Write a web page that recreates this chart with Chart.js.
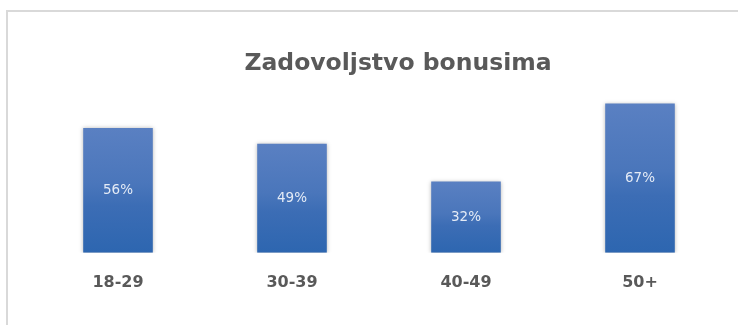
<!DOCTYPE html>
<html>
<head>
<meta charset="utf-8">
<script src="https://cdn.jsdelivr.net/npm/chart.js@4.4.1/dist/chart.umd.min.js"></script>
<style>
    html, body { margin: 0; padding: 0; background: #fff; overflow: hidden; }
    #wrap { position: relative; width: 738px; height: 325px; }
    #frame {
        position: absolute; left: 6px; top: 10px; width: 800px; height: 400px;
        border: 2px solid #d9d9d9; box-sizing: border-box;
    }
    #bonusChart { position: absolute; left: 0; top: 0; }
</style>
</head>
<body>
<div id="wrap">
    <div id="frame"></div>
    <canvas id="bonusChart" width="738" height="325"></canvas>
</div>
<script>
var titleText = 'Zadovoljstvo bonusima';
var ageGroups = ['18-29', '30-39', '40-49', '50+'];
var satisfied = [56, 49, 32, 67];

// vertical gradient per bar, lighter at the top
function barGradient(context) {
    var chart = context.chart;
    if (!chart.chartArea || context.type !== 'data') {
        return '#3f70b8';
    }
    var y = chart.scales.y;
    var top = y.getPixelForValue(context.raw);
    var bottom = y.getPixelForValue(0);
    var g = chart.ctx.createLinearGradient(0, top, 0, bottom);
    g.addColorStop(0, '#5a80c2');
    g.addColorStop(0.45, '#4a76bb');
    g.addColorStop(0.62, '#3c6db5');
    g.addColorStop(1, '#2d66b0');
    return g;
}

var titlePlugin = {
    id: 'titleText',
    afterDraw: function (chart) {
        var ctx = chart.ctx;
        ctx.save();
        ctx.font = 'bold 23.5px "DejaVu Sans"';
        ctx.fillStyle = '#595959';
        ctx.textAlign = 'center';
        ctx.textBaseline = 'middle';
        ctx.fillText(titleText, 398, 64);
        ctx.restore();
    }
};

var barShadow = {
    id: 'barShadow',
    beforeDatasetsDraw: function (chart) {
        var ctx = chart.ctx;
        ctx.save();
        ctx.shadowColor = 'rgba(0, 0, 0, 0.28)';
        ctx.shadowBlur = 4;
        ctx.shadowOffsetX = 0;
        ctx.shadowOffsetY = 0;
    },
    afterDatasetsDraw: function (chart) {
        chart.ctx.restore();
    }
};

var valueLabels = {
    id: 'valueLabels',
    afterDatasetsDraw: function (chart) {
        var ctx = chart.ctx;
        var meta = chart.getDatasetMeta(0);
        ctx.save();
        ctx.font = '13.5px "DejaVu Sans"';
        ctx.fillStyle = '#e4ebf6';
        ctx.textAlign = 'center';
        ctx.textBaseline = 'middle';
        meta.data.forEach(function (bar, i) {
            var mid = (bar.y + bar.base) / 2;
            ctx.fillText(satisfied[i] + '%', bar.x, mid);
        });
        ctx.restore();
    }
};

var chart = new Chart(document.getElementById('bonusChart'), {
    type: 'bar',
    data: {
        labels: ageGroups,
        datasets: [{
            data: satisfied,
            backgroundColor: barGradient,
            borderWidth: 0,
            barPercentage: 0.4,
            categoryPercentage: 1.0
        }]
    },
    options: {
        responsive: false,
        animation: false,
        events: [],
        layout: {
            padding: { left: 31, right: 11, top: 30, bottom: 13 }
        },
        plugins: {
            legend: { display: false },
            title: { display: false },
            tooltip: { enabled: false }
        },
        scales: {
            x: {
                grid: { display: false, drawTicks: false },
                border: { display: false },
                ticks: {
                    padding: 20,
                    color: '#595959',
                    font: { family: 'DejaVu Sans', size: 16, weight: 'bold' }
                }
            },
            y: {
                display: false,
                min: 0,
                max: 100
            }
        }
    },
    plugins: [barShadow, valueLabels, titlePlugin]
});
</script>
</body>
</html>
